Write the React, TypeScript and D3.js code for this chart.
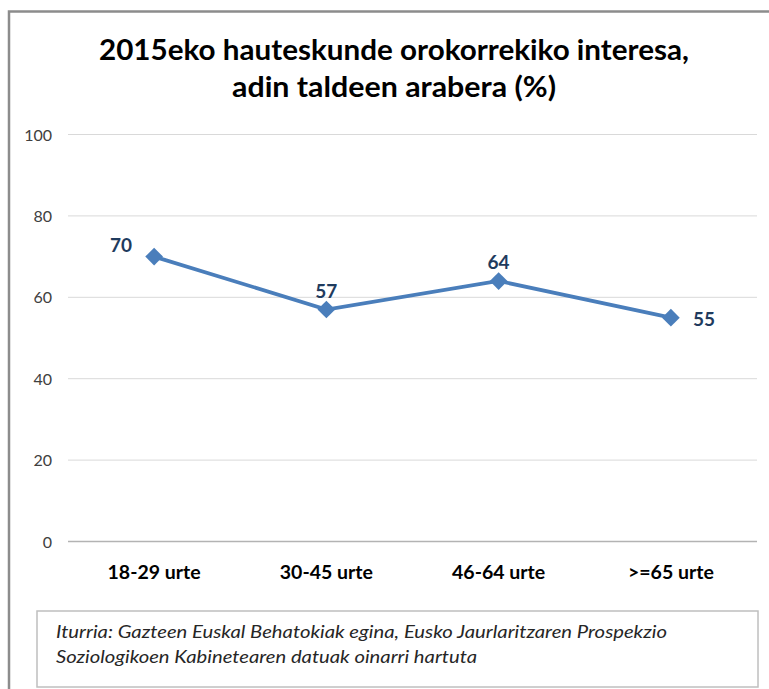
import React from "react";
import * as d3 from "d3";

const categories = ["18-29 urte", "30-45 urte", "46-64 urte", ">=65 urte"];
const values = [70, 57, 64, 55];
// where Excel put each data label relative to its point
const labelPos = ["left", "above", "above", "right"];
const yTicks = [0, 20, 40, 60, 80, 100];
const titleLines = [
  "2015eko hauteskunde orokorrekiko interesa,",
  "adin taldeen arabera  (%)",
];
const sourceLines = [
  "Iturria: Gazteen Euskal Behatokiak egina, Eusko Jaurlaritzaren Prospekzio",
  "Soziologikoen Kabinetearen datuak oinarri hartuta",
];

const W = 769;
const H = 689;
const font = "Lato, 'Open Sans', sans-serif";

const titleWidths = [590, 324];
const sourceWidths = [611, 421];

export default function App() {
  const x = d3.scaleBand().domain(categories).range([68, 757]);
  const y = d3.scaleLinear().domain([0, 100]).range([541.5, 134.5]);
  const cx = (c: string) => (x(c) as number) + x.bandwidth() / 2;

  const line = d3
    .line<number>()
    .x((_, i) => cx(categories[i]))
    .y((d) => y(d));

  const diamond = d3.symbol().type(d3.symbolDiamond2).size(200);

  return (
    <svg
      width={W}
      height={H}
      style={{ position: "absolute", left: 0, top: 0, background: "#fff" }}
    >
      {/* chart frame, runs off the right and bottom */}
      <path d={`M9,${H + 2} V11.5 H${W + 2}`} fill="none" stroke="#8c8c8c" strokeWidth={2.5} />

      {titleLines.map((t, i) => (
        <text
          key={i}
          x={394}
          y={60 + i * 37}
          textAnchor="middle"
          fontFamily={font}
          fontWeight="bold"
          fontSize={28}
          textLength={titleWidths[i]}
          lengthAdjust="spacingAndGlyphs"
          fill="#000"
        >
          {t}
        </text>
      ))}

      {yTicks.map((t) => (
        <g key={t}>
          <line
            x1={68}
            x2={757}
            y1={y(t)}
            y2={y(t)}
            stroke={t === 0 ? "#b3b3b3" : "#d9d9d9"}
            strokeWidth={t === 0 ? 1.5 : 1}
          />
          <text
            x={52}
            y={y(t) + 6}
            textAnchor="end"
            fontFamily={font}
            fontSize={16}
            fill="#404040"
          >
            {t}
          </text>
        </g>
      ))}

      {categories.map((c) => (
        <text
          key={c}
          x={cx(c)}
          y={579}
          textAnchor="middle"
          fontFamily={font}
          fontWeight="bold"
          fontSize={19.5}
          fill="#000"
        >
          {c}
        </text>
      ))}

      <path d={line(values) ?? ""} fill="none" stroke="#4a7ebb" strokeWidth={3.75} />

      {values.map((v, i) => {
        const px = cx(categories[i]);
        const py = y(v);
        const pos = labelPos[i];
        let lx = px;
        let ly = py - 12;
        let anchor = "middle";
        if (pos === "left") {
          lx = px - 22;
          ly = py - 5;
          anchor = "end";
        } else if (pos === "right") {
          lx = px + 22;
          ly = py + 8;
          anchor = "start";
        }
        return (
          <g key={i}>
            <path d={diamond() ?? ""} transform={`translate(${px},${py})`} fill="#4a7ebb" />
            <text
              x={lx}
              y={ly}
              textAnchor={anchor}
              fontFamily={font}
              fontWeight="bold"
              fontSize={19}
              fill="#1f3b5e"
            >
              {v}
            </text>
          </g>
        );
      })}

      {/* source note box */}
      <rect x={37} y={611} width={721} height={76} fill="#fff" stroke="#bfbfbf" strokeWidth={1.5} />
      {sourceLines.map((s, i) => (
        <text
          key={i}
          x={56}
          y={638 + i * 25}
          fontFamily={font}
          fontStyle="italic"
          fontSize={18}
          textLength={sourceWidths[i]}
          lengthAdjust="spacingAndGlyphs"
          fill="#262626"
        >
          {s}
        </text>
      ))}
    </svg>
  );
}
